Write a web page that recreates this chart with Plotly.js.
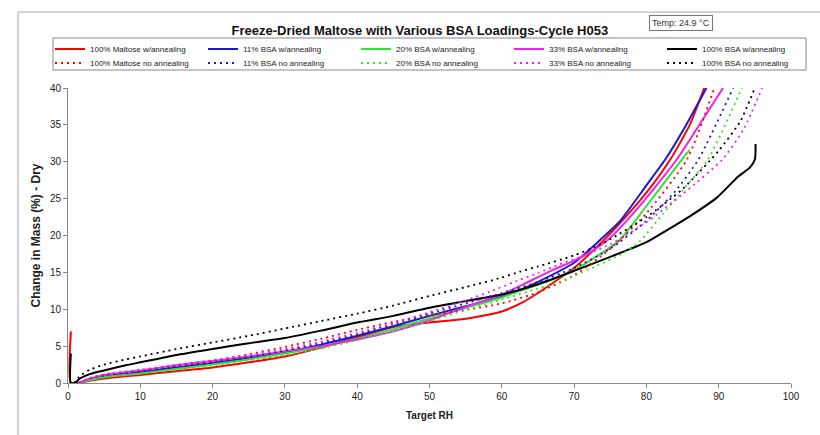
<!DOCTYPE html>
<html>
<head>
<meta charset="utf-8">
<script src="https://cdn.plot.ly/plotly-3.0.1.min.js"></script>
<style>
  html, body { margin: 0; padding: 0; background: #fff; }
  #chart { width: 820px; height: 435px; }
</style>
</head>
<body>
<div id="chart"></div>
<script>
// ---- Data (Target RH vs Change in Mass (%) - Dry) ----
const seriesNames = [
  "100% Maltose w/annealing", "11% BSA w/annealing", "20% BSA w/annealing",
  "33% BSA w/annealing", "100% BSA w/annealing",
  "100% Maltose no annealing", "11% BSA no annealing", "20% BSA no annealing",
  "33% BSA no annealing", "100% BSA no annealing"
];

const rhMaltoseAnn   = [0.4, 0.4, 1.5, 3, 5, 10, 15, 20, 25, 30, 35, 40, 45, 50, 55, 60, 63, 65, 68, 70, 73, 76, 80, 83.3, 86, 88];
const massMaltoseAnn = [7.0, 0, 0, 0.3, 0.6, 1.1, 1.6, 2.1, 2.8, 3.6, 4.8, 6.2, 7.6, 8.2, 8.7, 9.7, 11.0, 12.2, 14.2, 15.6, 18.3, 21.3, 25.8, 30.3, 35.0, 40.0];

const rhBsa11Ann   = [1.5, 3, 5, 10, 15, 20, 25, 30, 35, 40, 45, 50, 55, 60, 62.5, 65, 70, 73.6, 76.3, 80, 82.6, 85.5, 88.3];
const massBsa11Ann = [0, 0.5, 0.9, 1.5, 2.1, 2.7, 3.4, 4.2, 5.2, 6.4, 7.7, 9.1, 10.4, 11.7, 12.6, 13.7, 16.3, 19.4, 21.9, 26.8, 30.3, 35.0, 40.0];

const rhBsa20Ann   = [1.5, 3, 5, 10, 15, 20, 25, 30, 35, 40, 45, 50, 55, 60, 62.5, 65, 70, 73, 76.3, 80, 82.5, 84.9, 86];
const massBsa20Ann = [0, 0.4, 0.8, 1.3, 1.9, 2.5, 3.2, 4.0, 4.9, 6.0, 7.3, 8.8, 10.2, 11.6, 12.5, 13.3, 15.3, 17.1, 19.4, 24.0, 27.2, 30.3, 31.6];

const rhBsa33Ann   = [1.5, 3, 5, 10, 15, 20, 25, 30, 35, 40, 45, 50, 55, 60, 63, 67, 70, 72, 75, 78, 81, 84.2, 87, 90.6];
const massBsa33Ann = [0, 0.6, 1.1, 1.7, 2.4, 3.0, 3.6, 4.3, 5.0, 5.9, 7.0, 8.5, 10.3, 12.0, 13.4, 15.3, 16.6, 17.6, 19.7, 22.8, 26.3, 30.3, 34.5, 40.0];

const rhBsa100Ann   = [0.4, 0.4, 1, 1.5, 2, 3, 5, 8, 10, 15, 20, 25, 30, 35, 40, 45, 50, 55, 60, 65, 70, 75, 80, 83.3, 86, 89.7, 92.7, 94.3, 95, 95.1];
const massBsa100Ann = [4.0, 0, 0, 0.5, 0.8, 1.2, 1.7, 2.4, 2.8, 3.8, 4.6, 5.4, 6.1, 7.1, 8.2, 9.1, 10.2, 11.1, 12.0, 13.4, 15.2, 17.1, 19.1, 21.0, 22.6, 25.1, 28.0, 29.2, 30.3, 32.4];

const rhMaltoseNo   = [1.5, 3, 5, 10, 15, 20, 25, 30, 35, 40, 45, 50, 55, 60, 65, 70, 75, 80, 85.6, 89.4];
const massMaltoseNo = [0, 0.6, 1.0, 1.6, 2.3, 3.0, 3.9, 4.9, 6.0, 7.2, 8.3, 9.2, 9.9, 10.8, 12.3, 14.6, 18.2, 23.0, 30.3, 40.0];

const rhBsa11No   = [1.5, 3, 5, 10, 15, 20, 25, 30, 35, 40, 45, 50, 55, 60, 65, 70, 75, 80, 84, 87.2, 92];
const massBsa11No = [0, 0.5, 0.9, 1.5, 2.2, 2.8, 3.5, 4.4, 5.4, 6.6, 8.0, 9.4, 10.8, 12.2, 13.7, 15.6, 18.2, 22.0, 26.0, 30.3, 40.0];

const rhBsa20No   = [1.5, 3, 5, 10, 15, 20, 25, 30, 35, 40, 45, 50, 55, 60, 65, 68.5, 72, 76.8, 79.1, 82, 85, 88.5, 93.2];
const massBsa20No = [0, 0.4, 0.8, 1.3, 1.9, 2.4, 3.1, 3.8, 4.7, 5.8, 7.0, 8.4, 9.9, 11.3, 12.8, 13.9, 15.4, 17.6, 19.2, 22.6, 26.1, 30.3, 40.0];

const rhBsa33No   = [1.5, 3, 5, 10, 15, 20, 25, 30, 35, 40, 45, 50, 55, 58.4, 62.5, 65, 68, 70, 75, 80, 85, 90.5, 93.5, 96];
const massBsa33No = [0, 0.7, 1.2, 1.8, 2.5, 3.1, 3.8, 4.6, 5.6, 6.8, 8.1, 9.6, 11.2, 12.4, 14.0, 14.9, 16.1, 16.8, 18.8, 21.8, 25.6, 30.3, 34.5, 40.0];

const rhBsa100No   = [0.8, 1.5, 2, 3, 5, 8, 10, 15, 20, 25, 30, 35, 40, 45, 50, 55, 60, 62.5, 65, 70, 73, 75, 80, 85, 90, 93, 95];
const massBsa100No = [0, 0.8, 1.2, 1.8, 2.5, 3.2, 3.6, 4.6, 5.5, 6.4, 7.4, 8.4, 9.4, 10.5, 11.8, 13.0, 14.3, 15.1, 15.8, 17.3, 18.5, 19.5, 22.5, 26.3, 31.5, 35.5, 40.0];

const xTickVals = [0, 10, 20, 30, 40, 50, 60, 70, 80, 90, 100];
const yTickVals = [0, 5, 10, 15, 20, 25, 30, 35, 40];

// ---- Styling ----
const colors = ["#ff0000", "#1a1acc", "#33e033", "#ee22ee", "#000000"];
const xs = [rhMaltoseAnn, rhBsa11Ann, rhBsa20Ann, rhBsa33Ann, rhBsa100Ann,
            rhMaltoseNo, rhBsa11No, rhBsa20No, rhBsa33No, rhBsa100No];
const ys = [massMaltoseAnn, massBsa11Ann, massBsa20Ann, massBsa33Ann, massBsa100Ann,
            massMaltoseNo, massBsa11No, massBsa20No, massBsa33No, massBsa100No];

const traces = xs.map((x, i) => ({
  type: "scatter",
  mode: "lines",
  name: seriesNames[i],
  legend: i < 5 ? "legend" : "legend2",
  x: x,
  y: ys[i],
  line: {
    color: colors[i % 5],
    width: i < 5 ? 2 : 1.8,
    dash: i < 5 ? "solid" : "2px,4px",
    shape: "spline",
    smoothing: 0.6
  },
  hoverinfo: "skip"
}));

const FONT = "'Liberation Sans', Arial, sans-serif";
const L = 68, R = 29, T = 88, B = 52, W = 820, H = 435;
const pw = W - L - R, ph = H - T - B;
const px = v => (v - L) / pw;          // pixel x -> paper x
const py = v => (H - B - v) / ph;      // pixel y -> paper y

const legendCommon = {
  orientation: "h",
  xanchor: "left",
  yanchor: "middle",
  entrywidth: 108, entrywidthmode: "pixels",
  itemwidth: 30,
  font: {family: FONT, size: 8, color: "#222"},
  borderwidth: 0,
  bgcolor: "rgba(255,255,255,0)",
  traceorder: "normal"
};

const layout = {
  width: W, height: H,
  margin: {l: L, r: R, t: T, b: B, autoexpand: false},
  paper_bgcolor: "#ffffff",
  plot_bgcolor: "#ffffff",
  font: {family: FONT, size: 10, color: "#222"},
  showlegend: true,
  title: {
    text: "<b>Freeze-Dried Maltose with Various BSA Loadings-Cycle H053</b>",
    font: {family: FONT, size: 13, color: "#111"},
    x: 0.512, xanchor: "center",
    y: 1 - 30 / H, yanchor: "middle",
    xref: "container", yref: "container"
  },
  legend: Object.assign({}, legendCommon, {x: px(50), y: py(49)}),
  legend2: Object.assign({}, legendCommon, {x: px(50), y: py(63)}),
  xaxis: {
    range: [0, 100],
    tickvals: xTickVals,
    ticks: "outside", ticklen: 4, tickcolor: "#888",
    showline: true, linecolor: "#888", linewidth: 1,
    showgrid: false, zeroline: false,
    tickfont: {family: FONT, size: 10, color: "#222"},
    title: {text: "<b>Target RH</b>", font: {family: FONT, size: 10, color: "#222"}, standoff: 10},
    fixedrange: true
  },
  yaxis: {
    range: [0, 40],
    tickvals: yTickVals,
    ticks: "outside", ticklen: 4, tickcolor: "#888",
    showline: true, linecolor: "#888", linewidth: 1,
    showgrid: false, zeroline: false,
    tickfont: {family: FONT, size: 10, color: "#222"},
    title: {text: "<b>Change in Mass (%) - Dry</b>", font: {family: FONT, size: 12, color: "#222"}, standoff: 6},
    fixedrange: true
  },
  shapes: [
    {type: "rect", xref: "paper", yref: "paper",
     x0: px(18), x1: px(830), y0: py(445), y1: py(12),
     line: {color: "#a8a8a8", width: 1}, fillcolor: "rgba(0,0,0,0)", layer: "below"},
    {type: "rect", xref: "paper", yref: "paper",
     x0: px(53), x1: px(806), y0: py(70), y1: py(38),
     line: {color: "#888", width: 1}, fillcolor: "rgba(0,0,0,0)", layer: "below"}
  ],
  annotations: [
    {text: "Temp: 24.9 °C", xref: "paper", yref: "paper",
     x: px(681), y: py(23), xanchor: "center", yanchor: "middle",
     showarrow: false, font: {family: FONT, size: 9, color: "#333"},
     bordercolor: "#777", borderwidth: 1, borderpad: 2, bgcolor: "#fff"}
  ]
};

Plotly.newPlot("chart", traces, layout, {staticPlot: true, displayModeBar: false});
</script>
</body>
</html>
